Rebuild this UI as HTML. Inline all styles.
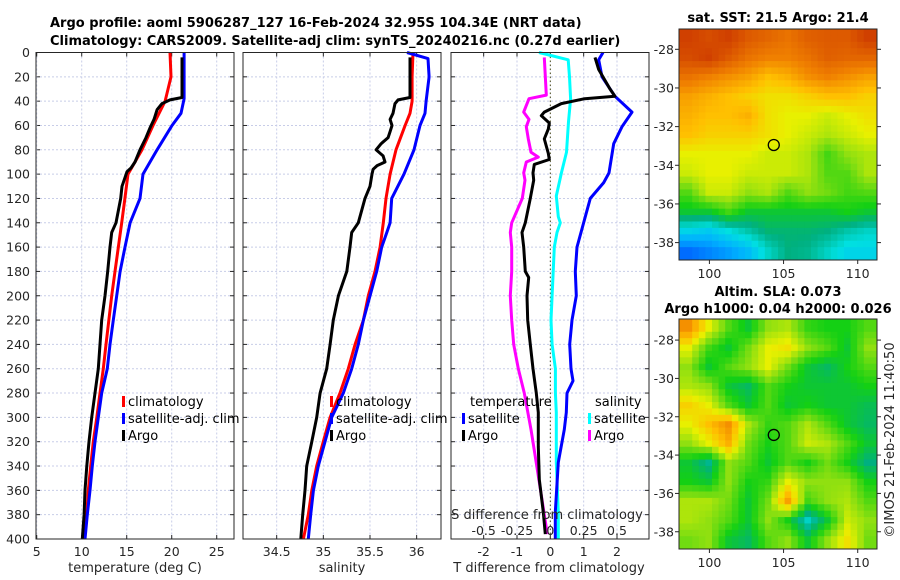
<!DOCTYPE html>
<html><head><meta charset="utf-8"><style>
body{margin:0;background:#fff;}
svg{display:block;font-family:"DejaVu Sans","Liberation Sans",sans-serif;}
.tk{font-size:12.5px;fill:#262626;}
.tt{font-size:13px;font-weight:bold;fill:#000;}
.lg{font-size:13px;fill:#000;}
</style></head><body>
<svg id="c" width="900" height="580" xmlns="http://www.w3.org/2000/svg">
<text class="tt" x="50" y="27">Argo profile: aoml 5906287_127 16-Feb-2024 32.95S 104.34E (NRT data)</text>
<text class="tt" x="50" y="45">Climatology: CARS2009. Satellite-adj clim: synTS_20240216.nc (0.27d earlier)</text>
<text class="tt" x="778" y="22" text-anchor="middle">sat. SST: 21.5 Argo: 21.4</text>
<text class="tt" x="778" y="296" text-anchor="middle">Altim. SLA: 0.073</text>
<text class="tt" x="778" y="313" text-anchor="middle">Argo h1000: 0.04 h2000: 0.026</text>
<text class="tk" transform="translate(894,440) rotate(-90)" text-anchor="middle" style="font-size:13px">©IMOS 21-Feb-2024 11:40:50</text>
<g id="g"></g>
</svg>
<script>
// ---- data ----
const depthTicks=[0,20,40,60,80,100,120,140,160,180,200,220,240,260,280,300,320,340,360,380,400];
const tTicks=[5,10,15,20,25];
const sTicks=[34.5,35,35.5,36];
const dTicks=[-2,-1,0,1,2];
const sdTicks=[-0.5,-0.25,0,0.25,0.5];
const sdTickLabels=["-0.5","-0.25","0","0.25","0.5"];

const satTDepth=[0,38,50,60,80,100,120,140,160,180,200,220,240,260,280,300,320,340,360,380,400];
const satTVal=[21.37,21.37,21.03,20.03,18.37,16.81,16.48,15.37,14.81,14.26,13.89,13.51,13.14,12.84,12.22,11.84,11.48,11.18,10.92,10.62,10.37];
const climTDepth=[0,20,40,60,80,100,120,140,180,200,240,260,280,300,320,340,360,380,400];
const climTVal=[19.81,19.92,19.26,17.92,16.7,15.14,14.8,14.44,13.7,13.33,12.7,12.4,12.03,11.67,11.29,11.0,10.73,10.56,10.18];
const argoTDepth=[4,37,39,42,47,55,62,70,80,90,95,98,110,120,140,148,160,180,200,220,240,260,280,300,320,340,360,380,400];
const argoTVal=[21.14,21.14,19.81,18.92,18.37,18.03,17.59,17.14,16.48,15.92,15.48,15.03,14.48,14.33,13.81,13.33,13.14,12.89,12.59,12.22,12.03,11.84,11.48,11.11,10.81,10.56,10.37,10.26,10.07];

const satSDepth=[0,5,20,40,50,60,80,100,120,140,148,160,180,200,220,240,260,280,300,320,340,360,380,400];
const satSVal=[35.897,36.122,36.133,36.101,36.09,36.036,35.972,35.865,35.733,35.715,35.68,35.626,35.572,35.5,35.429,35.375,35.304,35.214,35.09,35.018,34.946,34.893,34.865,34.839];
const climSDepth=[0,20,40,50,60,80,100,120,140,160,180,200,220,240,260,280,300,320,340,360,380,400];
const climSVal=[35.961,35.951,35.951,35.929,35.876,35.779,35.715,35.672,35.643,35.608,35.554,35.482,35.429,35.34,35.268,35.179,35.072,35.0,34.929,34.876,34.839,34.786];
const argoSDepth=[4,37,39,42,50,55,60,65,70,75,80,85,90,93,96,100,110,120,140,148,160,180,200,220,240,260,280,300,320,340,360,380,400];
const argoSVal=[35.929,35.929,35.801,35.768,35.747,35.715,35.736,35.715,35.694,35.619,35.565,35.64,35.661,35.576,35.533,35.522,35.5,35.447,35.375,35.304,35.286,35.251,35.161,35.107,35.072,35.036,34.965,34.929,34.876,34.822,34.804,34.779,34.758];

const dSatTDepth=[0,6,20,36,49,61,75,99,107,120,132,160,180,200,220,240,260,270,280,296,310,337,378,400];
const dSatTVal=[1.58,1.45,1.55,1.94,2.45,2.15,1.9,1.76,1.6,1.2,1.08,0.8,0.75,0.78,0.65,0.58,0.62,0.68,0.5,0.48,0.42,0.24,0.15,0.15];
const dArgoTDepth=[4,14,30,36,38,42,49,52,58,63,71,83,88,92,99,105,120,140,148,160,180,185,200,220,240,260,280,296,324,351,378,396];
const dArgoTVal=[1.34,1.45,1.79,1.94,1.03,0.33,-0.18,-0.27,-0.03,-0.06,-0.18,-0.06,-0.03,-0.48,-0.52,-0.5,-0.6,-0.75,-0.85,-0.8,-0.75,-0.65,-0.7,-0.68,-0.6,-0.52,-0.42,-0.36,-0.36,-0.33,-0.21,-0.15];
const dSatSDepth=[0,6,20,38,57,82,99,118,135,140,148,160,200,220,240,260,280,296,337,378,400];
const dSatSVal=[-0.085,0.134,0.144,0.152,0.136,0.121,0.083,0.045,0.06,0.075,0.05,0.03,0.013,0.005,0.013,0.038,0.038,0.045,0.045,0.06,0.06];
const dArgoSDepth=[4,35,38,49,55,61,71,82,86,90,99,105,120,140,148,160,180,200,220,240,260,280,310,337,364,396];
const dArgoSVal=[-0.045,-0.03,-0.16,-0.2,-0.16,-0.18,-0.165,-0.145,-0.09,-0.18,-0.2,-0.19,-0.21,-0.29,-0.3,-0.29,-0.29,-0.3,-0.29,-0.275,-0.24,-0.195,-0.145,-0.106,-0.068,-0.023];

const lonTicks=[100,105,110];
const latTicks=[-28,-30,-32,-34,-36,-38];
const argoLon=104.34, argoLat=-32.95;
const sstGrid=[
[.9,.88,.9,.86,.84,.82,.85,.86,.86,.9],
[.88,.9,.86,.82,.8,.8,.82,.85,.84,.84],
[.82,.8,.78,.76,.72,.74,.78,.8,.78,.76],
[.76,.74,.72,.7,.68,.68,.7,.72,.72,.7],
[.74,.72,.72,.74,.68,.66,.66,.64,.66,.68],
[.72,.7,.7,.7,.68,.66,.64,.62,.64,.66],
[.66,.66,.66,.66,.64,.64,.62,.55,.6,.62],
[.64,.66,.66,.64,.64,.64,.62,.56,.56,.62],
[.56,.64,.64,.6,.62,.56,.6,.58,.55,.56],
[.5,.5,.55,.5,.5,.5,.5,.5,.52,.5],
[.36,.34,.38,.42,.46,.46,.46,.45,.42,.4],
[.22,.25,.28,.32,.4,.45,.44,.4,.36,.36]];
const slaGrid=[
[.78,.66,.56,.5,.6,.62,.54,.52,.52,.56],
[.66,.55,.5,.58,.66,.68,.6,.56,.5,.6],
[.6,.5,.56,.6,.66,.58,.5,.47,.52,.56],
[.62,.6,.5,.47,.56,.52,.5,.5,.5,.52],
[.7,.66,.56,.5,.56,.5,.52,.5,.5,.48],
[.66,.72,.78,.62,.54,.56,.62,.56,.5,.47],
[.6,.66,.74,.58,.52,.56,.64,.62,.56,.5],
[.5,.44,.6,.56,.5,.56,.52,.58,.52,.45],
[.52,.5,.6,.52,.54,.66,.6,.6,.6,.52],
[.62,.62,.58,.5,.58,.76,.55,.6,.62,.56],
[.62,.6,.56,.5,.6,.52,.4,.5,.64,.6],
[.58,.6,.5,.47,.56,.6,.5,.6,.68,.58]];

// ---- drawing ----
const NS="http://www.w3.org/2000/svg";
const G=document.getElementById('g');
function el(tag,attrs,parent,text){const e=document.createElementNS(NS,tag);for(const k in attrs)e.setAttribute(k,attrs[k]);if(text!==undefined)e.textContent=text;(parent||G).appendChild(e);return e;}
const top0=52.5, bot0=539;
const yD=d=>top0+(bot0-top0)*d/400;

function panel(name,x0,x1,xmin,xmax,ticks,labels){
  const xs=v=>x0+(x1-x0)*(v-xmin)/(xmax-xmin);
  const g=el('g',{});
  
  
  depthTicks.forEach(d=>{
    const l=el('line',{x1:x0,x2:x1,y1:yD(d),y2:yD(d),stroke:'#c8cde8','stroke-width':1,'stroke-dasharray':'2,2'},g);
    
    
    el('line',{x1:x0,x2:x0+4,y1:yD(d),y2:yD(d),stroke:'#262626'},g);
    el('line',{x1:x1,x2:x1-4,y1:yD(d),y2:yD(d),stroke:'#262626'},g);
  });
  ticks.forEach((t,i)=>{
    const l=el('line',{x1:xs(t),x2:xs(t),y1:top0,y2:bot0,stroke:'#c8cde8','stroke-width':1,'stroke-dasharray':'2,2'},g);
    
    
    el('line',{x1:xs(t),x2:xs(t),y1:bot0,y2:bot0-4,stroke:'#262626'},g);
    el('line',{x1:xs(t),x2:xs(t),y1:top0,y2:top0+4,stroke:'#262626'},g);
    const tx=el('text',{class:'tk',x:xs(t),y:bot0+17,'text-anchor':'middle'},g,labels?labels[i]:String(t));
    
    
  });
  return {g,xs};
}
function line(p,depths,vals,color,name,w){
  const pts=depths.map((d,i)=>p.xs(vals[i]).toFixed(1)+','+yD(d).toFixed(1)).join(' ');
  const pl=el('polyline',{points:pts,fill:'none',stroke:color,'stroke-width':w||3,'stroke-linejoin':'round'},p.g);
  
  
}
function frame(p,x0,x1){el('rect',{x:x0,y:top0,width:x1-x0,height:bot0-top0,fill:'none',stroke:'#262626','stroke-width':1},p.g);}
function legend(x,y,items,parent){
  items.forEach((it,i)=>{
    const yy=y+i*17;
    el('rect',{x:x,y:yy-10,width:3,height:11,fill:it[1]},parent);
    const t=el('text',{class:'lg',x:x+6,y:yy},parent,it[0]);
    
    
  });
}

// Panel 1 temperature
const p1=panel('temperature-panel',36,234,4.92,26.92,tTicks);
depthTicks.forEach(d=>{const t=el('text',{class:'tk',x:30,y:yD(d)+4.5,'text-anchor':'end'},p1.g,String(d));});
line(p1,climTDepth,climTVal,'#ff0000','climatology-temp-line');
line(p1,satTDepth,satTVal,'#0000ff','satellite-temp-line');
line(p1,argoTDepth,argoTVal,'#000000','argo-temp-line');
frame(p1,36,234);
let xl=el('text',{class:'tk',x:135,y:572,'text-anchor':'middle',style:'font-size:13px'},p1.g,'temperature (deg C)');

legend(122,406,[['climatology','#ff0000'],['satellite-adj. clim','#0000ff'],['Argo','#000000']],p1.g);

// Panel 2 salinity
const p2=panel('salinity-panel',243,441,34.139,36.261,sTicks);
line(p2,climSDepth,climSVal,'#ff0000','climatology-salinity-line');
line(p2,satSDepth,satSVal,'#0000ff','satellite-salinity-line');
line(p2,argoSDepth,argoSVal,'#000000','argo-salinity-line');
frame(p2,243,441);
xl=el('text',{class:'tk',x:342,y:572,'text-anchor':'middle',style:'font-size:13px'},p2.g,'salinity');

legend(330,406,[['climatology','#ff0000'],['satellite-adj. clim','#0000ff'],['Argo','#000000']],p2.g);

// Panel 3 differences
const p3=panel('difference-panel',451,649,-2.98,2.96,dTicks);
const zl=el('line',{x1:p3.xs(0),x2:p3.xs(0),y1:top0,y2:bot0,stroke:'#505020','stroke-width':1,'stroke-dasharray':'1.5,2.5'},p3.g);

const p3s={g:p3.g,xs:v=>p3.xs(v*4)};
line(p3s,dSatSDepth,dSatSVal,'#00ffff','satellite-salinity-diff-line');
line(p3s,dArgoSDepth,dArgoSVal,'#ff00ff','argo-salinity-diff-line');
line(p3,dSatTDepth,dSatTVal,'#0000ff','satellite-temp-diff-line');
line(p3,dArgoTDepth,dArgoTVal,'#000000','argo-temp-diff-line');
frame(p3,451,649);
xl=el('text',{class:'tk',x:549,y:572,'text-anchor':'middle',style:'font-size:13px'},p3.g,'T difference from climatology');

xl=el('text',{class:'tk',x:547,y:519,'text-anchor':'middle',style:'font-size:13px'},p3.g,'S difference from climatology');

sdTicks.forEach((t,i)=>{const tx=el('text',{class:'tk',x:p3s.xs(t),y:535,'text-anchor':'middle'},p3.g,sdTickLabels[i]);});
let h=el('text',{class:'lg',x:470,y:406},p3.g,'temperature');
h=el('text',{class:'lg',x:595,y:406},p3.g,'salinity');
legend(462,423,[['satellite','#0000ff'],['Argo','#000000']],p3.g);
legend(588,423,[['satellite','#00ffff'],['Argo','#ff00ff']],p3.g);

// Maps
const stops=[[0,[0,0,128]],[.15,[0,48,255]],[.3,[0,176,255]],[.38,[0,224,224]],[.45,[0,176,128]],[.52,[20,208,20]],[.6,[144,224,16]],[.66,[232,240,0]],[.72,[255,192,0]],[.8,[240,128,0]],[.9,[208,64,0]],[1,[160,0,0]]];
function cmap(v){for(let i=1;i<stops.length;i++){if(v<=stops[i][0]){const a=stops[i-1],b=stops[i],f=(v-a[0])/(b[0]-a[0]);return 'rgb('+a[1].map((c,k)=>Math.round(c+(b[1][k]-c)*f)).join(',')+')';}}return 'rgb(160,0,0)';}
function sample(grid,fr,fc){
  const R=grid.length,C=grid[0].length;
  const r=Math.min(Math.max(fr,0),R-1),c=Math.min(Math.max(fc,0),C-1);
  const r0=Math.floor(r),c0=Math.floor(c),r1=Math.min(r0+1,R-1),c1=Math.min(c0+1,C-1),a=r-r0,b=c-c0;
  return grid[r0][c0]*(1-a)*(1-b)+grid[r0][c1]*(1-a)*b+grid[r1][c0]*a*(1-b)+grid[r1][c1]*a*b;
}
function map(name,grid,x0,x1,y0,y1,latTop,latBot){
  const g=el('g',{});
  
  
  const lonMin=97.95,lonMax=111.3;
  const xs=v=>x0+(x1-x0)*(v-lonMin)/(lonMax-lonMin);
  const ys=v=>y0+(y1-y0)*(latTop-v)/(latTop-latBot);
  const R=grid.length,C=grid[0].length,k=3,cw=(x1-x0)/(C*k),ch=(y1-y0)/(R*k);
  for(let r=0;r<R*k;r++)for(let c=0;c<C*k;c++){
    const v=sample(grid,(r+0.5)/k-0.5,(c+0.5)/k-0.5);
    const rc=el('rect',{x:(x0+c*cw).toFixed(2),y:(y0+r*ch).toFixed(2),width:(cw+0.5).toFixed(2),height:(ch+0.5).toFixed(2),fill:cmap(v)},g);
    
    
  }
  el('rect',{x:x0,y:y0,width:x1-x0,height:y1-y0,fill:'none',stroke:'#262626'},g);
  lonTicks.forEach(t=>{el('line',{x1:xs(t),x2:xs(t),y1:y1,y2:y1+4,stroke:'#262626'},g);const tx=el('text',{class:'tk',x:xs(t),y:y1+18,'text-anchor':'middle'},g,String(t));});
  latTicks.forEach(t=>{el('line',{x1:x0-4,x2:x0,y1:ys(t),y2:ys(t),stroke:'#262626'},g);el('line',{x1:x1,x2:x1+4,y1:ys(t),y2:ys(t),stroke:'#262626'},g);const tx=el('text',{class:'tk',x:x0-5,y:ys(t)+4.5,'text-anchor':'end'},g,String(t));});
  const m=el('circle',{cx:xs(argoLon),cy:ys(argoLat),r:5.5,fill:'none',stroke:'#000','stroke-width':1.3},g);
  
  
}
map('sst-map',sstGrid,679,877,29,260,-26.95,-38.9);
map('sla-map',slaGrid,679,877,319,549,-26.9,-38.9);
</script>
</body></html>
